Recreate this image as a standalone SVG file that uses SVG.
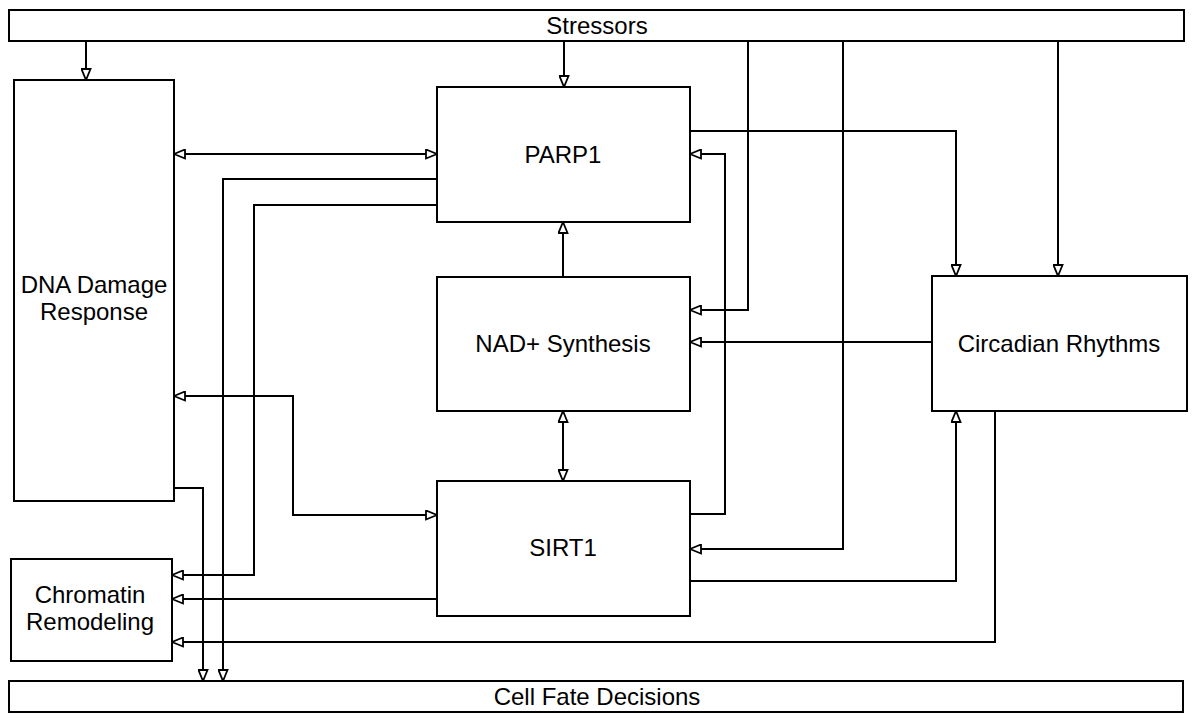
<svg xmlns="http://www.w3.org/2000/svg" width="1200" height="728" viewBox="0 0 1200 728">
<style>
.box{fill:#fff;stroke:#000;stroke-width:2}
.lbl{font-family:"Liberation Sans",Arial,sans-serif;font-size:24px;fill:#000;text-anchor:middle}
.c{fill:none;stroke:#000;stroke-width:2}
.a{marker-end:url(#arr)}
.b{marker-start:url(#arr);marker-end:url(#arr)}
</style>
<defs>
<marker id="arr" viewBox="-1 -1 13 11" refX="11" refY="4.5" markerWidth="13" markerHeight="11" markerUnits="userSpaceOnUse" orient="auto-start-reverse">
<path d="M0,0 L11,4.5 L0,9 z" fill="#fff" stroke="#000" stroke-width="1.8"/>
</marker>
</defs>
<rect width="1200" height="728" fill="#fff"/>
<g id="connectors">
<path class="c a" d="M86,41 V80"/>
<path class="c a" d="M564,41 V87"/>
<path class="c a" d="M748,41 V310 H690"/>
<path class="c a" d="M843,41 V549 H690"/>
<path class="c a" d="M1058,41 V276"/>
<path class="c b" d="M174,154 H437"/>
<path class="c a" d="M437,179 H223 V681"/>
<path class="c a" d="M437,205 H254 V575 H172"/>
<path class="c a" d="M690,131 H956 V276"/>
<path class="c a" d="M563,277 V222"/>
<path class="c b" d="M563,411 V481"/>
<path class="c a" d="M690,514 H725 V154 H690"/>
<path class="c a" d="M932,342 H690"/>
<path class="c b" d="M174,396 H293 V515 H437"/>
<path class="c a" d="M690,581 H956 V411"/>
<path class="c a" d="M437,599 H172"/>
<path class="c a" d="M995,411 V642 H172"/>
<path class="c a" d="M174,488 H203 V681"/>
</g>
<g id="stressors">
<rect class="box" x="9" y="10" width="1175" height="31"/>
<text class="lbl" x="597" y="34">Stressors</text>
</g>
<g id="dna-damage-response">
<rect class="box" x="14" y="80" width="160" height="421"/>
<text class="lbl" x="94" y="293">DNA Damage</text>
<text class="lbl" x="94" y="320">Response</text>
</g>
<g id="parp1">
<rect class="box" x="437" y="87" width="253" height="135"/>
<text class="lbl" x="563" y="163">PARP1</text>
</g>
<g id="nad-synthesis">
<rect class="box" x="437" y="277" width="253" height="134"/>
<text class="lbl" x="563" y="352">NAD+ Synthesis</text>
</g>
<g id="sirt1">
<rect class="box" x="437" y="481" width="253" height="135"/>
<text class="lbl" x="563" y="556">SIRT1</text>
</g>
<g id="circadian-rhythms">
<rect class="box" x="932" y="276" width="255" height="135"/>
<text class="lbl" x="1059" y="352">Circadian Rhythms</text>
</g>
<g id="chromatin-remodeling">
<rect class="box" x="11" y="559" width="161" height="102"/>
<text class="lbl" x="90" y="603">Chromatin</text>
<text class="lbl" x="90" y="630">Remodeling</text>
</g>
<g id="cell-fate-decisions">
<rect class="box" x="9" y="681" width="1174" height="31"/>
<text class="lbl" x="597" y="705">Cell Fate Decisions</text>
</g>
</svg>
